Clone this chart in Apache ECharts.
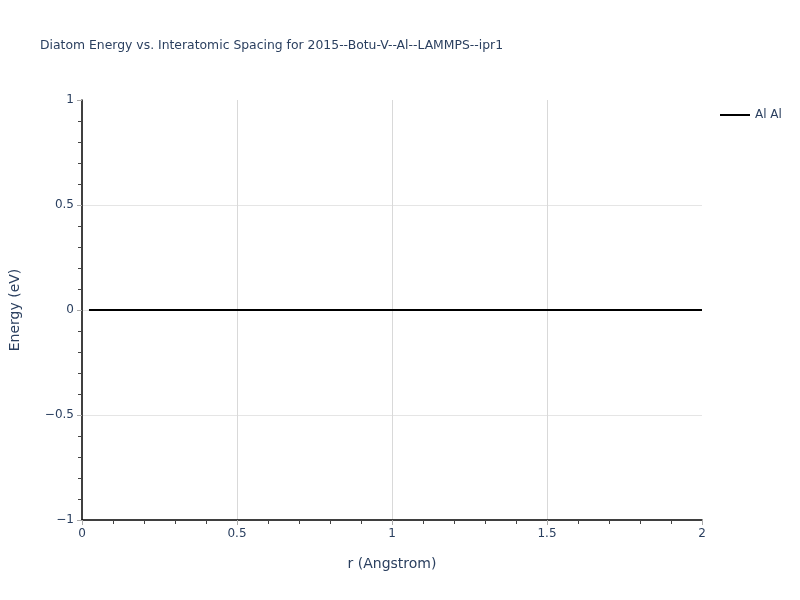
<!DOCTYPE html>
<html><head><meta charset="utf-8">
<script src="https://cdn.jsdelivr.net/npm/echarts@6/dist/echarts.min.js"></script>
<style>html,body{margin:0;padding:0;background:#fff}#c{width:800px;height:600px}</style>
</head><body><div id="c"></div>
<script>
const seriesName = 'Al Al';
const rValues = [0.0225, 0.25, 0.5, 0.75, 1.0, 1.25, 1.5, 1.75, 2.0];
const energyValues = [0, 0, 0, 0, 0, 0, 0, 0, 0];
const xTicks = [0, 0.5, 1, 1.5, 2];
const yTicks = [-1, -0.5, 0, 0.5, 1];

const fmt = v => String(v).replace('-', '\u2212');
const font = '"DejaVu Sans", Verdana, sans-serif';
const chart = echarts.init(document.getElementById('c'));
chart.setOption({
  animation: false,
  title: {
    text: 'Diatom Energy vs. Interatomic Spacing for 2015--Botu-V--Al--LAMMPS--ipr1',
    left: 35, top: 35,
    textStyle: {fontFamily: font, fontSize: 12.4, fontWeight: 'normal', color: '#2a3f5f'}
  },
  legend: {
    left: 715, top: 104, orient: 'vertical',
    itemWidth: 30, itemHeight: 2, itemGap: 4,
    icon: 'rect',
    textStyle: {fontFamily: font, fontSize: 12, color: '#2a3f5f'},
    data: [seriesName]
  },
  grid: {left: 80, right: 98, top: 100, bottom: 80},
  xAxis: {
    type: 'value', min: xTicks[0], max: xTicks[xTicks.length - 1], interval: 0.5,
    name: 'r (Angstrom)', nameLocation: 'middle', nameGap: 37,
    nameTextStyle: {fontFamily: font, fontSize: 14, color: '#2a3f5f'},
    axisLine: {show: true, onZero: false, lineStyle: {color: '#000', width: 1.5}},
    axisTick: {show: true, inside: false, length: 5, lineStyle: {color: '#aaa'}},
    minorTick: {show: true, splitNumber: 5, length: 4, lineStyle: {color: '#444'}},
    axisLabel: {fontFamily: font, fontSize: 12, color: '#2a3f5f', margin: 8, formatter: fmt},
    splitLine: {show: true, showMinLine: false, showMaxLine: false, lineStyle: {color: '#d9d9d9', width: 1}}
  },
  yAxis: {
    type: 'value', min: yTicks[0], max: yTicks[yTicks.length - 1], interval: 0.5,
    name: 'Energy (eV)', nameLocation: 'middle', nameGap: 60, nameRotate: 90,
    nameTextStyle: {fontFamily: font, fontSize: 14, color: '#2a3f5f'},
    axisLine: {show: true, onZero: false, lineStyle: {color: '#000', width: 1.5}},
    axisTick: {show: true, inside: false, length: 5, lineStyle: {color: '#aaa'}},
    minorTick: {show: true, splitNumber: 5, length: 4, lineStyle: {color: '#444'}},
    axisLabel: {fontFamily: font, fontSize: 12, color: '#2a3f5f', margin: 8, formatter: fmt},
    splitLine: {show: true, showMinLine: false, showMaxLine: false, lineStyle: {color: '#e5e5e5', width: 1}}
  },
  series: [{
    name: seriesName, type: 'line', showSymbol: false, symbol: 'none',
    data: rValues.map((r, i) => [r, energyValues[i]]),
    lineStyle: {color: '#000', width: 2}, itemStyle: {color: '#000'}
  }]
});
</script></body></html>
